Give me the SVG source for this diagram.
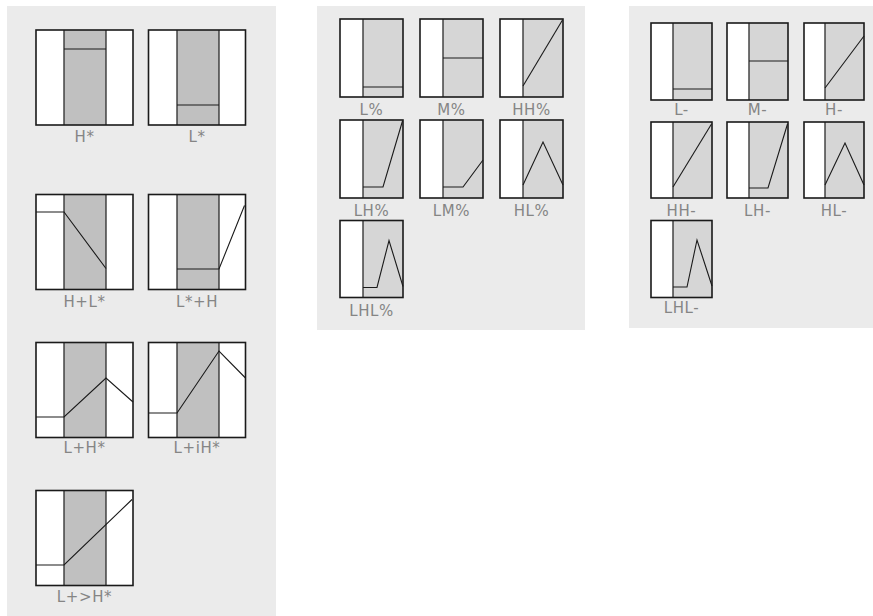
<svg xmlns="http://www.w3.org/2000/svg" width="873" height="616" viewBox="0 0 873 616">
<style>
.bg{fill:#ffffff}
.panel{fill:#ebebeb}
.w{fill:#ffffff}
.g1{fill:#c0c0c0}
.g2{fill:#d6d6d6}
.frame{fill:none;stroke:#1a1a1a;stroke-width:1.6}
.dv{stroke:#2a2a2a;stroke-width:1.3;fill:none}
.ct{fill:none;stroke:#1a1a1a;stroke-width:1.1;stroke-linejoin:miter}
.lbl{font-family:"DejaVu Sans",Verdana,sans-serif;font-size:15px;fill:#858585;text-anchor:middle;letter-spacing:0.6px}
</style>
<rect class="bg" x="0" y="0" width="873" height="616"/>
<g id="panels">
<rect class="panel" x="7" y="6" width="269" height="610"/>
<rect class="panel" x="317" y="6" width="268" height="324"/>
<rect class="panel" x="629" y="6" width="244" height="322"/>
</g>

<!-- Left panel nodes -->
<g id="H-star" transform="translate(36,30)">
<rect class="w" width="97" height="95"/><rect class="g1" x="28" width="42" height="95"/>
<line class="dv" x1="28" y1="0" x2="28" y2="95"/><line class="dv" x1="70" y1="0" x2="70" y2="95"/>
<polyline class="ct" points="28,19 70,19"/>
<rect class="frame" width="97" height="95"/>
<text class="lbl" x="48.5" y="112">H*</text>
</g>
<g id="L-star" transform="translate(148.5,30)">
<rect class="w" width="97" height="95"/><rect class="g1" x="28.5" width="42" height="95"/>
<line class="dv" x1="28.5" y1="0" x2="28.5" y2="95"/><line class="dv" x1="70.5" y1="0" x2="70.5" y2="95"/>
<polyline class="ct" points="28.5,75 70.5,75"/>
<rect class="frame" width="97" height="95"/>
<text class="lbl" x="48.5" y="112">L*</text>
</g>
<g id="H-plus-L-star" transform="translate(36,194.5)">
<rect class="w" width="97" height="95"/><rect class="g1" x="28" width="42" height="95"/>
<line class="dv" x1="28" y1="0" x2="28" y2="95"/><line class="dv" x1="70" y1="0" x2="70" y2="95"/>
<polyline class="ct" points="0,17.5 28,17.5 70,74"/>
<rect class="frame" width="97" height="95"/>
<text class="lbl" x="48.5" y="112.5">H+L*</text>
</g>
<g id="L-star-plus-H" transform="translate(148.5,194.5)">
<rect class="w" width="97" height="95"/><rect class="g1" x="28.5" width="42" height="95"/>
<line class="dv" x1="28.5" y1="0" x2="28.5" y2="95"/><line class="dv" x1="70.5" y1="0" x2="70.5" y2="95"/>
<polyline class="ct" points="28.5,74.5 70.5,74.5 96,11"/>
<rect class="frame" width="97" height="95"/>
<text class="lbl" x="48.5" y="112.5">L*+H</text>
</g>
<g id="L-plus-H-star" transform="translate(36,342.5)">
<rect class="w" width="97" height="95"/><rect class="g1" x="28" width="42" height="95"/>
<line class="dv" x1="28" y1="0" x2="28" y2="95"/><line class="dv" x1="70" y1="0" x2="70" y2="95"/>
<polyline class="ct" points="0,74.5 28,74.5 70,35.5 97,59.5"/>
<rect class="frame" width="97" height="95"/>
<text class="lbl" x="48.5" y="110.5">L+H*</text>
</g>
<g id="L-plus-iH-star" transform="translate(148.5,342.5)">
<rect class="w" width="97" height="95"/><rect class="g1" x="28.5" width="42" height="95"/>
<line class="dv" x1="28.5" y1="0" x2="28.5" y2="95"/><line class="dv" x1="70.5" y1="0" x2="70.5" y2="95"/>
<polyline class="ct" points="0,70.5 28.5,70.5 70.5,8.5 97,35.5"/>
<rect class="frame" width="97" height="95"/>
<text class="lbl" x="48.5" y="110.5">L+iH*</text>
</g>
<g id="L-plus-gt-H-star" transform="translate(36,490.5)">
<rect class="w" width="97" height="95"/><rect class="g1" x="28" width="42" height="95"/>
<line class="dv" x1="28" y1="0" x2="28" y2="95"/><line class="dv" x1="70" y1="0" x2="70" y2="95"/>
<polyline class="ct" points="0,74.5 28,74.5 96,9"/>
<rect class="frame" width="97" height="95"/>
<text class="lbl" x="48.5" y="111.5">L+&gt;H*</text>
</g>

<!-- Middle panel nodes -->
<g id="L-pct" transform="translate(340,19)">
<rect class="w" width="63" height="78"/><rect class="g2" x="23" width="40" height="78"/>
<line class="dv" x1="23" y1="0" x2="23" y2="78"/>
<polyline class="ct" points="23,68 63,68"/>
<rect class="frame" width="63" height="78"/>
<text class="lbl" x="31.5" y="96">L%</text>
</g>
<g id="M-pct" transform="translate(420,19)">
<rect class="w" width="63" height="78"/><rect class="g2" x="23" width="40" height="78"/>
<line class="dv" x1="23" y1="0" x2="23" y2="78"/>
<polyline class="ct" points="23,39 63,39"/>
<rect class="frame" width="63" height="78"/>
<text class="lbl" x="31.5" y="96">M%</text>
</g>
<g id="HH-pct" transform="translate(500,19)">
<rect class="w" width="63" height="78"/><rect class="g2" x="23" width="40" height="78"/>
<line class="dv" x1="23" y1="0" x2="23" y2="78"/>
<polyline class="ct" points="23,67 62.5,1"/>
<rect class="frame" width="63" height="78"/>
<text class="lbl" x="31.5" y="96">HH%</text>
</g>
<g id="LH-pct" transform="translate(340,120)">
<rect class="w" width="63" height="78"/><rect class="g2" x="23" width="40" height="78"/>
<line class="dv" x1="23" y1="0" x2="23" y2="78"/>
<polyline class="ct" points="23,67 43,67 62.5,1"/>
<rect class="frame" width="63" height="78"/>
<text class="lbl" x="31.5" y="96">LH%</text>
</g>
<g id="LM-pct" transform="translate(420,120)">
<rect class="w" width="63" height="78"/><rect class="g2" x="23" width="40" height="78"/>
<line class="dv" x1="23" y1="0" x2="23" y2="78"/>
<polyline class="ct" points="23,67 43,67 63,40"/>
<rect class="frame" width="63" height="78"/>
<text class="lbl" x="31.5" y="96">LM%</text>
</g>
<g id="HL-pct" transform="translate(500,120)">
<rect class="w" width="63" height="78"/><rect class="g2" x="23" width="40" height="78"/>
<line class="dv" x1="23" y1="0" x2="23" y2="78"/>
<polyline class="ct" points="23,65 43,22 63,65"/>
<rect class="frame" width="63" height="78"/>
<text class="lbl" x="31.5" y="96">HL%</text>
</g>
<g id="LHL-pct" transform="translate(340,220.5)">
<rect class="w" width="63" height="77"/><rect class="g2" x="23" width="40" height="77"/>
<line class="dv" x1="23" y1="0" x2="23" y2="77"/>
<polyline class="ct" points="23,67 37,67 49,20 63,66"/>
<rect class="frame" width="63" height="77"/>
<text class="lbl" x="31.5" y="95.5">LHL%</text>
</g>

<!-- Right panel nodes -->
<g id="L-minus" transform="translate(651,23)">
<rect class="w" width="61" height="77"/><rect class="g2" x="22" width="39" height="77"/>
<line class="dv" x1="22" y1="0" x2="22" y2="77"/>
<polyline class="ct" points="22,66 61,66"/>
<rect class="frame" width="61" height="77"/>
<text class="lbl" x="30.5" y="92">L-</text>
</g>
<g id="M-minus" transform="translate(727,23)">
<rect class="w" width="61" height="77"/><rect class="g2" x="22" width="39" height="77"/>
<line class="dv" x1="22" y1="0" x2="22" y2="77"/>
<polyline class="ct" points="22,38 61,38"/>
<rect class="frame" width="61" height="77"/>
<text class="lbl" x="30.5" y="92">M-</text>
</g>
<g id="H-minus" transform="translate(804,23)">
<rect class="w" width="60" height="77"/><rect class="g2" x="21" width="39" height="77"/>
<line class="dv" x1="21" y1="0" x2="21" y2="77"/>
<polyline class="ct" points="21,65 60,13"/>
<rect class="frame" width="60" height="77"/>
<text class="lbl" x="30" y="92">H-</text>
</g>
<g id="HH-minus" transform="translate(651,122)">
<rect class="w" width="61" height="76"/><rect class="g2" x="22" width="39" height="76"/>
<line class="dv" x1="22" y1="0" x2="22" y2="76"/>
<polyline class="ct" points="22,65 60.5,2"/>
<rect class="frame" width="61" height="76"/>
<text class="lbl" x="30.5" y="94">HH-</text>
</g>
<g id="LH-minus" transform="translate(727,122)">
<rect class="w" width="61" height="76"/><rect class="g2" x="22" width="39" height="76"/>
<line class="dv" x1="22" y1="0" x2="22" y2="76"/>
<polyline class="ct" points="22,66 41,66 60.5,2"/>
<rect class="frame" width="61" height="76"/>
<text class="lbl" x="30.5" y="94">LH-</text>
</g>
<g id="HL-minus" transform="translate(804,122)">
<rect class="w" width="60" height="76"/><rect class="g2" x="21" width="39" height="76"/>
<line class="dv" x1="21" y1="0" x2="21" y2="76"/>
<polyline class="ct" points="21,63 41,21 60,63"/>
<rect class="frame" width="60" height="76"/>
<text class="lbl" x="30" y="94">HL-</text>
</g>
<g id="LHL-minus" transform="translate(651,220.5)">
<rect class="w" width="61" height="77"/><rect class="g2" x="22" width="39" height="77"/>
<line class="dv" x1="22" y1="0" x2="22" y2="77"/>
<polyline class="ct" points="22,66.5 36,66.5 46,19.5 61,65.5"/>
<rect class="frame" width="61" height="77"/>
<text class="lbl" x="30.5" y="92.5">LHL-</text>
</g>

<g id="connectors"></g>
</svg>
